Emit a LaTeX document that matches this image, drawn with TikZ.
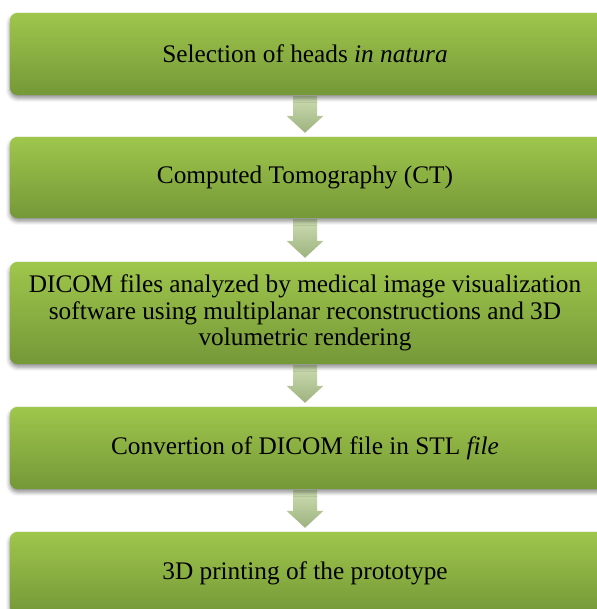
\documentclass[tikz,border=0pt]{standalone}
\usepackage{fontspec}
\setmainfont{Liberation Serif}
\usetikzlibrary{shadows.blur,calc,backgrounds}
\definecolor{boxtop}{HTML}{9FC64C}
\definecolor{boxbot}{HTML}{759838}
\definecolor{arrtop}{HTML}{CADCAD}
\definecolor{arrbot}{HTML}{98AD78}
\tikzset{
  stepbox/.style={minimum width=590pt, inner sep=0pt, draw=none, align=center,
    font=\fontsize{25.3}{26.5}\selectfont},
  boxfill/.style={rounded corners=8pt, top color=boxtop, bottom color=boxbot, draw=none,
    blur shadow={shadow xshift=0pt, shadow yshift=-3pt, shadow blur radius=4pt, shadow opacity=45}},
  flowarrow/.style={top color=arrtop, bottom color=arrbot, draw=none, fill opacity=0.95}
}
\begin{document}
\begin{tikzpicture}[x=1pt,y=-1pt]
\useasboundingbox (0,0) rectangle (596,609);
\node[stepbox, minimum height=82pt] (b1) at (305,54) {Selection of heads \textit{in natura}};
\node[stepbox, minimum height=81pt] (b2) at (305,177.5) {Computed Tomography (CT)};
\node[stepbox, minimum height=102pt] (b3) at (305,313) {DICOM files analyzed by medical image visualization\\software using multiplanar reconstructions and 3D\\volumetric rendering};
\node[stepbox, minimum height=82pt] (b4) at (305,448) {Convertion of DICOM file in STL \textit{file}};
\node[stepbox, minimum height=82pt] (b5) at (305,573) {3D printing of the prototype};
\begin{scope}[on background layer]
\foreach \a/\b in {b1/b2,b2/b3,b3/b4,b4/b5}{
  \shade[flowarrow]
    ($(\a.south)+(-12,1)$) -- ($(\a.south)+(12,1)$) --
    ($(\b.north)+(12,-21)$) -- ($(\b.north)+(18.5,-21)$) --
    ($(\b.north)+(0,-4)$) -- ($(\b.north)+(-18.5,-21)$) --
    ($(\b.north)+(-12,-21)$) -- cycle;
}
\foreach \n in {b1,b2,b3,b4,b5}{
  \shade[boxfill] (\n.north west) rectangle ($(\n.south east)+(20,0)$);
}
\end{scope}
\end{tikzpicture}
\end{document}
